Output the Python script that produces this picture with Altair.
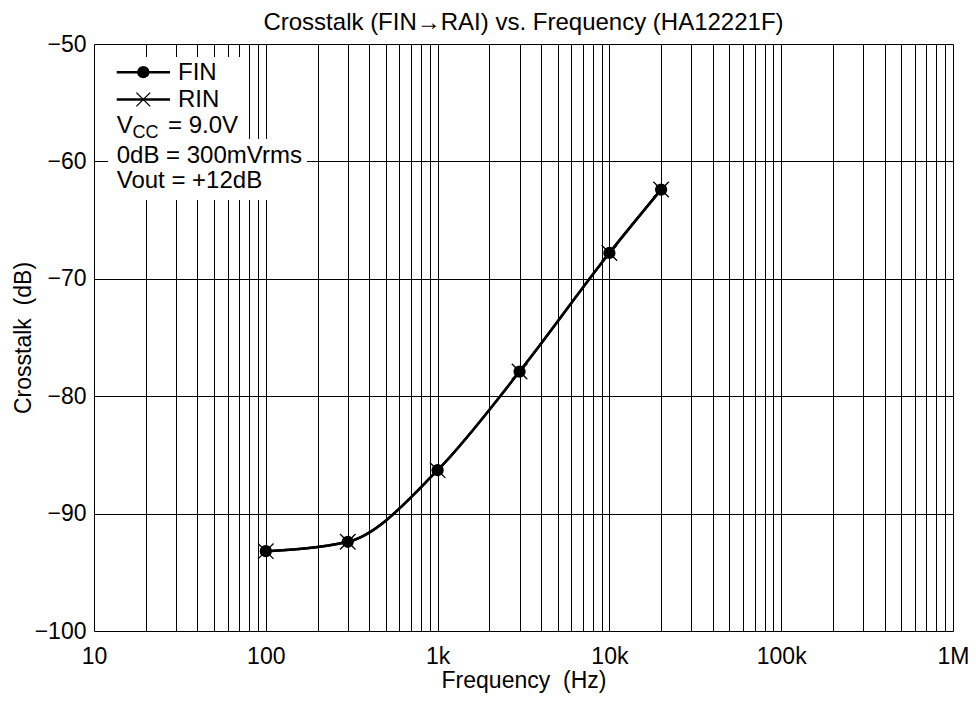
import altair as alt
import pandas as pd

# ---- data ----
freq_hz = [100, 300, 1000, 3000, 10000, 20000]
fin_db = [-93.2, -92.4, -86.3, -77.9, -67.8, -62.4]
rin_db = [-93.2, -92.4, -86.3, -77.9, -67.8, -62.4]

x_tick_values = [10, 100, 1000, 10000, 100000, 1000000]
x_tick_labels = ["10", "100", "1k", "10k", "100k", "1M"]
x_grid_values = [m * d for d in [10, 100, 1000, 10000, 100000] for m in range(1, 10)] + [1000000]
y_tick_values = [-100, -90, -80, -70, -60, -50]

title_text = "Crosstalk (FIN\u2192RAI) vs. Frequency (HA12221F)"
x_title = "Frequency\u00a0\u00a0(Hz)"
y_title = "Crosstalk\u00a0\u00a0(dB)"
legend_rows = ["FIN", "RIN"]
legend_notes = ["0dB = 300mVrms", "Vout = +12dB"]

FONT = "Liberation Sans"
FS = 23
LFS = 24

fin = pd.DataFrame({"freq": freq_hz, "db": fin_db, "series": "FIN"})
rin = pd.DataFrame({"freq": freq_hz, "db": rin_db, "series": "RIN"})
one = pd.DataFrame({"k": [0]})

label_expr = " : ".join(
    f"datum.value == {v} ? '{t}'" for v, t in zip(x_tick_values, x_tick_labels)
) + " : ''"

x_enc = alt.X(
    "freq:Q",
    scale=alt.Scale(type="log", domain=[10, 1000000], nice=False),
    axis=alt.Axis(
        values=x_grid_values, labelExpr=label_expr, grid=True,
        gridColor="black", gridWidth=1, gridOpacity=1,
        ticks=False, tickSize=0, domain=False,
        labelFont=FONT, labelFontSize=FS, labelColor="black",
        labelBaseline="alphabetic", labelPadding=32,
        labelOverlap=False, labelFlush=False, labelBound=False,
        title=x_title, titleFont=FONT, titleFontSize=FS,
        titleFontWeight="normal", titleColor="black",
        titleBaseline="alphabetic", titleY=56, titleX=429.5,
    ),
)
y_enc = alt.Y(
    "db:Q",
    scale=alt.Scale(domain=[-100, -50], nice=False, zero=False),
    axis=alt.Axis(
        values=y_tick_values, grid=True,
        gridColor="black", gridWidth=1, gridOpacity=1,
        ticks=False, tickSize=0, domain=False,
        labelFont=FONT, labelFontSize=FS, labelColor="black",
        labelPadding=8,
        title=y_title, titleFont=FONT, titleFontSize=FS,
        titleFontWeight="normal", titleColor="black",
        titleAngle=270, titleBaseline="alphabetic", titleAlign="center",
        titleX=-64, titleY=293.5,
    ),
)

lines = alt.Chart(pd.concat([fin, rin])).mark_line(
    interpolate="monotone", color="black", strokeWidth=2.5
).encode(x=x_enc, y=y_enc, detail="series:N")

xmark = "M-1,-1L1,1M-1,1L1,-1"
rin_pts = alt.Chart(rin).mark_point(
    shape=xmark, filled=False, color="black", strokeWidth=1.3, size=240, opacity=1
).encode(x="freq:Q", y="db:Q")
fin_pts = alt.Chart(fin).mark_point(
    shape="circle", filled=True, color="black", size=150, opacity=1
).encode(x="freq:Q", y="db:Q")

# legend background (white boxes behind legend text)
def wbox(x1, x2, y1, y2):
    return alt.Chart(one).mark_rect(color="white").encode(
        x=alt.value(x1), x2=alt.value(x2), y=alt.value(y1), y2=alt.value(y2))

bg = wbox(14, 151, 13, 156) + wbox(14, 213, 95, 126) + wbox(14, 174, 124, 156)

def lrule(y):
    return alt.Chart(one).mark_rule(color="black", strokeWidth=2.5).encode(
        x=alt.value(22.7), x2=alt.value(76), y=alt.value(y))

def ltext(txt, x, y, size=LFS):
    return alt.Chart(one).mark_text(
        text=txt, font=FONT, fontSize=size, color="black",
        align="left", baseline="alphabetic").encode(x=alt.value(x), y=alt.value(y))

leg = (
    lrule(28.2)
    + alt.Chart(one).mark_point(shape="circle", filled=True, color="black",
                                size=150, opacity=1).encode(x=alt.value(49.3), y=alt.value(28.2))
    + ltext(legend_rows[0], 84, 36)
    + lrule(55.5)
    + alt.Chart(one).mark_point(shape=xmark, filled=False, color="black",
                                strokeWidth=1.3, size=190, opacity=1).encode(x=alt.value(49.3), y=alt.value(55.5))
    + ltext(legend_rows[1], 84, 63.3)
    + ltext("V", 22.7, 89.3)
    + ltext("CC", 38.5, 94, size=18)
    + ltext("= 9.0V", 74, 89.3)
    + ltext(legend_notes[0], 22.7, 119.3)
    + ltext(legend_notes[1], 22.7, 144.3)
)

title = alt.Chart(one).mark_text(
    text=title_text, font=FONT, fontSize=24, color="black",
    align="center", baseline="alphabetic").encode(x=alt.value(429.5), y=alt.value(-14.5))

chart = alt.layer(lines, bg, rin_pts, fin_pts, leg, title).properties(
    width=859, height=587,
    autosize=alt.AutoSizeParams(type="none"),
    padding={"left": 86, "top": 36, "right": 15, "bottom": 62},
).configure_view(stroke="black", strokeWidth=1.5).configure(background="white")

chart.save("out.html", embed_options={"renderer": "svg", "actions": False})
